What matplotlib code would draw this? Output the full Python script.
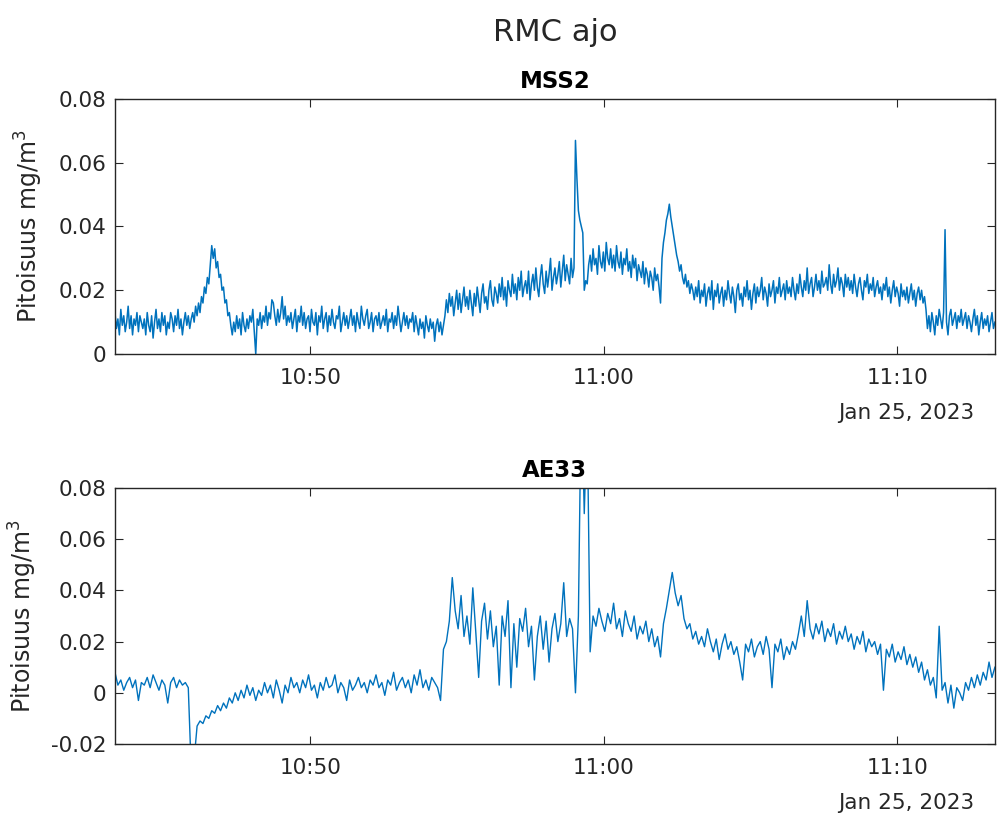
import numpy as np
import pandas as pd
import matplotlib
matplotlib.use("Agg")
import matplotlib.pyplot as plt
import matplotlib.dates as mdates
from matplotlib.ticker import FuncFormatter

plt.rcParams["font.family"] = ["DejaVu Sans"]

# arvot luettu kuvasta (ug/m3), aika alkaa 10:43:20
start = "2023-01-25 10:43:20"

# MSS2: 3 s välein, yksi rivi = 1 min
mss2_step = "3s"
mss2_ug = [
    13, 8, 11, 6, 14, 9, 12, 7, 10, 15, 8, 12, 6, 11, 9, 13, 7, 12, 10, 8,
    11, 6, 13, 9, 7, 12, 5, 10, 14, 8, 11, 7, 13, 9, 12, 6, 10, 8, 13, 11,
    7, 12, 9, 14, 8, 11, 6, 10, 13, 9, 12, 8, 11, 13, 10, 15, 12, 16, 13, 18,
    16, 21, 19, 24, 22, 28, 34, 30, 33, 27, 29, 24, 25, 20, 21, 16, 17, 12, 13, 9,
    6, 10, 7, 12, 8, 11, 6, 13, 9, 7, 11, 8, 12, 10, 14, 7, 0, 11, 9, 13,
    8, 12, 10, 15, 9, 13, 11, 17, 16, 12, 9, 14, 10, 13, 18, 11, 15, 9, 12, 10,
    13, 8, 11, 14, 7, 12, 10, 15, 9, 13, 8, 11, 12, 7, 14, 10, 9, 13, 6, 12,
    10, 15, 8, 11, 13, 7, 12, 9, 14, 10, 8, 12, 11, 15, 7, 10, 13, 9, 12, 8,
    11, 14, 9, 12, 7, 13, 10, 8, 15, 11, 9, 12, 14, 8, 10, 13, 7, 11, 12, 9,
    13, 8, 10, 12, 9, 14, 7, 11, 10, 13, 8, 12, 9, 15, 11, 7, 10, 13, 9, 12,
    8, 11, 10, 13, 7, 12, 9, 6, 11, 8, 10, 5, 12, 9, 7, 11, 8, 10, 4, 9,
    11, 7, 10, 6, 9, 12, 17, 13, 19, 15, 18, 12, 16, 20, 14, 19, 13, 17, 21, 15,
    18, 14, 20, 16, 12, 19, 15, 21, 17, 13, 19, 22, 16, 18, 14, 20, 23, 17, 15, 21,
    19, 16, 22, 18, 24, 17, 21, 15, 23, 20, 18, 25, 19, 22, 17, 24, 20, 26, 18, 21,
    23, 19, 26, 17, 22, 25, 20, 27, 21, 18, 24, 28, 22, 19, 26, 21, 25, 30, 20, 24,
    27, 22, 25, 29, 21, 26, 31, 23, 28, 25, 22, 30, 24, 27, 67, 55, 45, 42, 40, 38,
    20, 23, 22, 28, 31, 26, 33, 28, 30, 25, 34, 29, 27, 32, 26, 35, 30, 28, 33, 27,
    31, 26, 34, 29, 27, 32, 25, 30, 28, 33, 26, 29, 24, 31, 27, 30, 23, 28, 26, 24,
    29, 22, 27, 25, 21, 26, 24, 20, 27, 23, 25, 21, 16, 30, 35, 38, 42, 44, 47, 43,
    40, 37, 34, 31, 29, 26, 28, 24, 22, 25, 21, 23, 19, 22, 20, 17, 21, 18, 23, 16,
    20, 18, 22, 15, 19, 21, 17, 23, 14, 20, 18, 22, 16, 19, 21, 15, 20, 17, 23, 19,
    16, 21, 18, 13, 20, 22, 17, 19, 15, 21, 18, 23, 17, 20, 14, 19, 22, 16, 21, 18,
    20, 24, 17, 21, 19, 15, 22, 18, 20, 23, 16, 21, 19, 24, 18, 20, 22, 17, 23, 19,
    21, 18, 24, 20, 17, 22, 19, 25, 21, 18, 23, 20, 27, 19, 22, 24, 18, 21, 25, 20,
    23, 19, 26, 21, 22, 24, 20, 28, 22, 19, 25, 21, 23, 27, 20, 24, 22, 18, 25, 21,
    24, 20, 23, 19, 25, 21, 18, 22, 24, 20, 17, 23, 21, 25, 19, 22, 20, 24, 18, 21,
    23, 19, 21, 17, 22, 20, 24, 18, 21, 16, 20, 23, 18, 21, 19, 15, 22, 18, 20, 17,
    21, 16, 19, 22, 17, 20, 15, 19, 21, 17, 20, 16, 18, 14, 8, 12, 7, 13, 10, 6,
    12, 9, 14, 11, 8, 13, 39, 10, 6, 12, 14, 9, 11, 13, 8, 12, 10, 14, 9, 11,
    13, 8, 12, 10, 7, 11, 14, 9, 12, 6, 10, 13, 8, 11, 9, 12, 7, 10, 13, 8,
    10,
]

# AE33: 6 s välein, yksi rivi = 1 min
ae33_step = "6s"
ae33_ug = [
    8, 3, 5, 1, 4, 6, 2, 5, -3, 4,
    3, 6, 2, 7, 4, 1, 5, 3, -4, 4,
    6, 2, 5, 3, 4, 2, -30, -26, -13, -11,
    -12, -9, -10, -7, -8, -5, -7, -4, -6, -2,
    -4, 0, -3, 1, -2, 3, -1, 2, -3, 1,
    -1, 4, 0, 3, -2, 5, 1, -4, 3, 0,
    6, 2, 4, 0, 5, 2, 7, 1, 3, -2,
    4, 1, 6, 2, 3, 7, 0, 4, 2, -3,
    5, 1, 3, 6, 2, 4, 0, 5, 3, 7,
    2, 4, -1, 5, 3, 8, 1, 4, 6, 2,
    5, 0, 7, 3, 9, 2, 5, 1, 6, 4,
    2, -3, 17, 20, 28, 45, 32, 25, 38, 22,
    30, 19, 41, 24, 6, 28, 35, 21, 32, 18,
    26, 3, 30, 22, 36, 2, 27, 10, 29, 24,
    33, 18, 26, 5, 22, 30, 17, 28, 12, 25,
    31, 20, 27, 43, 22, 29, 25, 0, 30, 120,
    70, 110, 16, 30, 26, 33, 28, 24, 31, 27,
    35, 25, 29, 22, 32, 27, 24, 30, 21, 26,
    23, 28, 20, 25, 18, 22, 14, 27, 33, 40,
    47, 39, 34, 38, 29, 25, 27, 21, 24, 19,
    22, 18, 25, 20, 16, 21, 13, 19, 23, 17,
    20, 15, 18, 12, 5, 19, 16, 21, 14, 18,
    20, 15, 22, 17, 2, 19, 16, 21, 13, 18,
    15, 20, 17, 23, 30, 22, 36, 25, 21, 27,
    23, 28, 20, 25, 22, 27, 19, 24, 21, 26,
    20, 23, 17, 22, 19, 24, 16, 21, 18, 20,
    15, 19, 1, 17, 14, 19, 12, 16, 13, 18,
    11, 15, 10, 14, 8, 12, 5, 9, 3, 6,
    -2, 26, 1, 4, -4, 3, -6, 2, 0, -3,
    4, 1, 6, 2, 7, 3, 8, 5, 12, 6,
    10,
]

panels = [
    ("MSS2", mss2_ug, mss2_step, 1.1, (0.0, 0.08), [0.1153, 0.5651, 0.8826, 0.3133], -0.080),
    ("AE33", ae33_ug, ae33_step, 1.0, (-0.02, 0.08), [0.1153, 0.0860, 0.8826, 0.3145], -0.086),
]

line_col = "#0072BD"
dark = "#262626"

fig = plt.figure(figsize=(9.97, 8.14), dpi=100)
fig.suptitle("RMC ajo", fontsize=22, color=dark, x=0.557, y=0.978, va="top")

for name, vals, step, lw, ylim, pos, ylab_x in panels:
    ax = fig.add_axes(pos)
    t = pd.date_range(start, periods=len(vals), freq=step)
    ax.plot(t, np.array(vals) / 1000.0, color=line_col, lw=lw)
    ax.set_xlim(t[0], t[-1])
    ax.set_ylim(*ylim)
    ax.set_yticks(np.arange(ylim[0], ylim[1] + 0.001, 0.02))
    ax.yaxis.set_major_formatter(FuncFormatter(lambda v, p: "%g" % round(v, 3)))
    ax.xaxis.set_major_locator(mdates.MinuteLocator(byminute=range(0, 60, 10)))
    ax.xaxis.set_major_formatter(mdates.DateFormatter("%H:%M"))
    ax.tick_params(direction="in", length=6, width=0.8, top=True, right=True,
                   labelsize=15.5, colors=dark, labelcolor=dark)
    ax.tick_params(axis="x", pad=10)
    ax.tick_params(axis="y", pad=6)
    for s in ax.spines.values():
        s.set_color(dark)
        s.set_linewidth(1.0)
    ax.set_title(name, fontsize=16.5, fontweight="bold", pad=8)
    ax.set_ylabel(r"Pitoisuus mg/m$^3$", fontsize=17, color=dark)
    ax.yaxis.set_label_coords(ylab_x, 0.5)
    ax.text(0.977, -0.232, "Jan 25, 2023", transform=ax.transAxes,
            ha="right", va="center", fontsize=15.5, color=dark)

fig.savefig("out.png", dpi=100)
